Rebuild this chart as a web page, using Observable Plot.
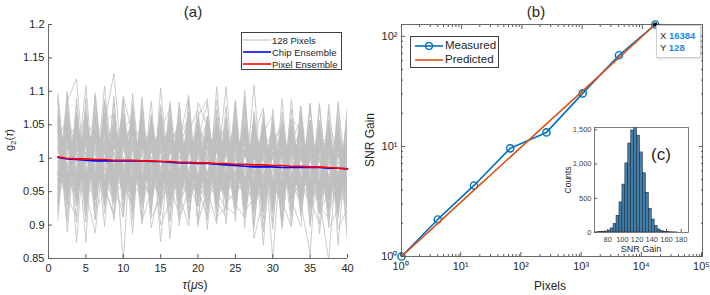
<!DOCTYPE html>
<html><head><meta charset="utf-8">
<script src="https://cdn.jsdelivr.net/npm/d3@7"></script>
<script src="https://cdn.jsdelivr.net/npm/@observablehq/plot@0.6"></script>
<style>
body{margin:0;background:#fff;}
#wrap{position:relative;width:710px;height:295px;font-family:"Liberation Sans",Arial,sans-serif;color:#262626;overflow:hidden}
#wrap svg{position:absolute;overflow:visible}
.t{position:absolute;white-space:nowrap;transform:translate(-50%,-50%);line-height:1}
.rot{transform:translate(-50%,-50%) rotate(-90deg)}
.leg{position:absolute;background:#fff;border:1px solid #404040;box-sizing:border-box}
.lrow{position:absolute;left:0;white-space:nowrap;line-height:1}
.lrow svg{position:static!important;vertical-align:middle}
</style></head><body><div id="wrap"></div>
<script>
// ---------- Panel (a) data ----------
const tauValues = [1.25,2.5,3.75,5,6.25,7.5,8.75,10,11.25,12.5,13.75,15,16.25,17.5,18.75,20,21.25,22.5,23.75,25,26.25,27.5,28.75,30,31.25,32.5,33.75,35,36.25,37.5,38.75,40];
const pixelEnsemble = [1.002,1.000,0.999,0.999,0.998,0.998,0.997,0.997,0.997,0.996,0.996,0.995,0.995,0.994,0.994,0.993,0.993,0.992,0.992,0.991,0.991,0.990,0.990,0.989,0.989,0.988,0.988,0.987,0.987,0.986,0.985,0.984];
const chipEnsemble = [1.001,0.999,0.998,0.997,0.996,0.996,0.996,0.996,0.996,0.996,0.995,0.995,0.994,0.993,0.993,0.992,0.992,0.991,0.990,0.989,0.988,0.987,0.987,0.987,0.986,0.986,0.986,0.986,0.986,0.985,0.985,0.984];
// per-pixel deviations from the pixel ensemble, in thousandths
const pixelTraceDev = [
[12,-25,40,-8,33,-41,18,5,-30,22,-14,37,-3,-45,28,9,-19,44,-27,6,31,-12,-38,20,15,-33,26,-7,41,-22,3,-16],
[-18,30,-5,47,-29,11,-40,24,8,-36,19,-21,42,-9,-27,35,4,-15,29,-44,13,38,-6,-31,22,10,-39,27,-11,34,-24,17],
[35,-10,-33,21,-2,45,-17,-28,39,-4,26,-41,15,-23,31,-8,-35,18,-9,40,-26,7,23,-43,-1,30,-20,12,-37,25,-14,38],
[-6,-42,24,10,-31,2,37,-19,-12,43,-30,7,-25,28,-37,14,33,-22,1,-17,36,-40,16,27,-29,5,41,-13,-3,-34,29,-9],
[25,16,-21,-37,44,-15,-4,32,-41,13,6,-28,23,40,-18,-33,11,26,-38,19,-7,-24,42,-2,36,-27,-8,20,-42,9,-19,31],
[-27,38,9,-14,-40,27,12,-36,20,-7,-44,31,-16,3,41,-25,-13,-31,35,-2,-39,24,8,-20,43,-11,-26,37,14,-30,-6,22],
[48,-20,3,29,-18,-33,46,-11,-22,36,-6,-38,30,17,-29,6,27,-40,12,33,-21,-8,-34,39,-16,21,-3,-44,25,13,-27,-5],
[-39,7,-28,41,15,-24,-9,44,-3,-31,38,-17,-2,35,-42,23,-26,9,-30,27,40,-36,-15,11,18,-40,33,-1,-23,39,-10,-35],
[5,33,-46,-1,26,19,-35,13,31,-26,-11,45,-39,-14,22,-30,40,3,-23,-36,17,29,-43,15,-33,37,-18,8,-12,-38,44,2],
[-33,-8,20,-30,-12,40,-26,37,-15,27,-40,2,19,-33,12,42,-37,-19,21,14,-34,-1,30,-27,7,-22,16,-38,38,-5,21,-43],
[95,-60,-85,70,-40,55,130,-30,-70,60,-45,25,-90,50,-30,-65,40,-20,115,-55,80,-110,-50,60,-40,70,-75,45,-30,20,-60,75],
[-75,85,120,-50,-110,30,-60,95,40,-95,70,-30,-60,90,-80,45,-100,60,-30,75,-40,120,-70,30,65,-50,85,-90,60,-75,100,-45],
[60,-110,40,-125,95,-70,50,-155,80,-60,-30,70,-115,40,65,-90,55,-40,-70,95,-80,30,-120,85,-60,100,-55,-130,70,-40,80,-100],
[-80,50,-30,110,-60,80,-90,40,-110,95,-50,60,-85,30,100,-60,-40,-90,60,-50,110,-70,40,-140,50,-70,90,-60,-40,85,-115,60],
[40,-95,80,-60,100,-45,-80,70,-50,80,-100,-35,60,-70,90,-95,70,-60,45,-85,100,-60,-30,70,-90,60,-50,95,-100,40,-75,95],
[-50,70,-125,60,-40,110,-30,-85,100,-45,65,-120,40,-60,75,-40,-80,115,-50,40,-70,80,-50,60,-80,45,-65,70,-45,-140,55,-110],
[85,-40,60,-80,40,-100,70,-50,65,-85,40,-70,85,-50,-95,60,-50,80,-60,-40,90,-95,60,-70,100,-60,50,-80,45,-85,65,-60],
[-60,100,-70,90,-90,60,-65,95,-75,50,-80,110,-40,80,-60,70,95,-80,-65,60,-55,70,-100,45,-55,-90,75,-45,95,-50,-30,85],
[20,-55,35,-15,60,-40,25,-10,45,-30,-50,15,55,-25,-45,30,-20,50,-35,10,-60,40,5,-45,30,-15,55,-35,-5,50,-40,15],
[-45,15,-20,55,-35,10,-60,40,-10,55,-25,-45,20,60,-15,-50,35,-5,-55,45,15,-30,50,-20,-60,25,-10,40,-50,5,35,-55],
[55,-30,10,-50,25,35,-45,5,-55,20,45,-35,-15,25,-55,50,10,-45,30,-20,45,-50,20,35,-35,55,-45,15,20,-40,-15,50],
[-15,45,-55,25,-5,-50,40,-35,50,-15,5,-55,45,-10,30,-40,-50,25,55,-40,-25,15,-45,55,10,-50,20,-25,55,-20,45,-30],
[30,5,45,-40,-55,20,55,-25,15,-45,35,25,-50,-30,50,-5,45,-55,-15,30,-40,55,-25,-10,50,-30,-50,60,-15,30,-55,25],
[-50,-20,15,35,-45,50,-15,60,-40,10,-55,40,-20,55,-35,-15,-25,40,-45,-55,50,-10,35,-50,-20,15,45,-55,30,-45,10,-25],
[10,50,-40,-25,40,-55,-5,-50,60,-40,15,-10,35,-45,15,45,-55,-20,40,25,-50,35,-60,20,40,-45,-25,30,-35,60,-20,-40],
[-35,25,-60,45,10,-15,35,-45,-25,45,-15,55,-60,20,-40,10,50,-35,20,-60,30,-45,15,40,-45,20,55,-20,-55,25,-35,40],
[45,-45,25,5,-30,45,-50,30,-35,-55,60,-20,25,-40,45,-25,15,55,-50,35,-10,-40,50,-35,25,-55,30,-10,45,-50,20,5],
[-25,35,-45,60,-20,-35,15,55,-60,35,-20,50,-45,10,-25,60,-30,-50,25,-15,55,-35,-50,45,-15,35,-40,50,-60,15,50,-45],
[15,-60,50,-35,45,-25,-40,20,55,-20,-40,35,5,-55,20,-35,60,-25,-5,50,-45,20,-40,30,-50,45,-15,-40,35,-35,55,-15],
[-55,40,-10,20,-60,55,-30,45,-20,30,-35,-50,40,35,-60,25,-40,45,-55,15,30,-25,60,-40,20,-35,50,-50,-20,45,-45,35],
[38,-28,52,-48,18,-8,44,-58,28,-48,22,48,-32,-18,58,-38,8,-32,48,-42,22,-52,28,-18,48,-8,-42,28,-48,38,-28,48],
[-28,58,-38,8,48,-52,22,-18,-48,38,-8,-28,52,-42,-12,38,-42,28,-18,52,-58,42,-32,18,-38,52,-28,-12,38,-22,-52,12],
[22,-38,-12,48,-42,28,-52,38,42,-12,48,-38,-22,48,-28,-48,32,-8,-42,38,-32,8,52,-28,-12,42,-52,22,12,-48,38,-32],
[-42,18,32,-52,38,-32,48,-8,-32,58,-42,18,-48,28,38,-22,-48,52,12,-28,42,-58,-8,48,28,-42,22,-32,-28,52,-18,42],
[52,-48,18,-22,-38,48,-18,28,-58,18,38,-48,28,-28,-42,52,22,-38,52,-8,-42,28,-28,-48,42,-28,8,48,-52,-12,38,-22],
[-12,-42,58,-38,28,-48,12,-42,38,-28,-52,28,-8,52,-38,18,-28,42,-38,-22,48,-42,32,12,-52,28,-38,42,8,-38,-22,58],
[28,-18,-48,38,-28,18,-58,48,-8,42,-28,-48,58,-18,28,-42,48,-48,28,22,-28,-38,42,-52,12,-28,48,-42,22,42,-48,-8],
[-48,42,-22,-8,52,-38,32,-28,48,-42,28,-18,-38,42,-52,28,-18,-28,48,-52,18,32,-42,38,-28,48,-32,18,-42,-28,42,-18],
[8,28,-38,52,-18,-58,38,-12,-28,22,-48,52,-8,-38,48,-32,38,-52,-22,42,-38,18,-28,52,-42,12,38,-28,52,-32,-12,28],
[-22,-52,42,-28,38,12,-42,52,18,-58,32,-12,42,-48,8,-18,-38,22,-48,58,-22,-42,38,-8,32,-48,18,-52,28,42,-38,-52],
[30,-45,60,-20,10,-65,40,25,-50,70,-35,-10,45,-60,15,55,-25,-40,65,-55,20,35,-70,45,-15,60,-45,25,-35,70,-50,10],
[-60,20,-35,65,-50,25,5,-45,70,-30,50,-65,-20,40,-55,30,60,-15,-45,30,-65,55,10,-35,45,-60,25,-20,60,-40,-10,55],
[45,-70,25,-5,55,-30,-60,70,-20,35,-65,50,-40,20,65,-50,-35,70,-20,-50,45,-15,55,-65,35,-25,-55,65,-30,45,-65,20],
[-10,55,-50,35,-70,60,-25,-40,50,-65,20,40,-55,-25,45,-20,70,-45,30,-70,40,-50,-20,60,-55,35,70,-45,15,-60,30,-35],
[65,-25,-55,45,20,-40,60,-70,25,-50,55,-30,70,-45,-35,40,-60,25,45,-35,-15,65,-45,20,-30,50,-65,35,-60,20,55,-45],
[-40,65,10,-60,35,-20,-45,50,-65,45,-10,65,-35,55,-60,-15,40,-55,15,60,-50,-25,45,-70,60,-40,30,-50,45,-65,-25,65],
[15,-35,70,-45,-25,65,-55,35,40,-20,-60,25,50,-70,35,-30,-45,55,-65,40,25,-40,70,-25,-50,65,-20,-60,35,45,-55,-20],
[-70,40,-20,50,-60,30,45,-55,-30,65,-45,-20,35,50,-40,60,20,-65,35,-45,60,-20,-55,35,55,-35,-15,45,-70,55,-35,40],
[50,-15,35,-70,40,-55,20,65,-45,-10,60,-50,25,-35,70,-55,35,20,-60,55,-40,45,-30,-50,-25,70,-50,15,50,-30,-45,65],
[-20,-60,45,20,-45,70,-35,-20,55,-40,30,-60,65,-25,-50,45,-70,40,-25,-15,60,-55,25,50,-45,-20,60,-35,-50,65,25,-60],
[70,-50,-25,55,-15,-45,65,-30,-55,45,25,-70,20,60,-25,-45,55,-35,70,-40,-30,50,-60,30,20,-55,40,-65,25,-20,65,-35],
[-35,45,-70,30,60,-35,-20,70,-10,-55,45,15,-65,35,-20,50,-40,60,-15,45,-55,-35,65,-45,65,-15,-50,35,-25,55,-60,25],
[25,60,-40,-55,35,-10,-65,45,65,-35,-45,55,-20,70,-50,15,-30,-50,40,-65,70,-30,15,-55,30,-45,55,-25,65,-50,20,-20],
[-55,-30,55,-40,70,-50,35,-25,30,50,-70,35,-45,-15,55,-65,45,-20,-55,60,-35,25,-40,60,-60,45,-35,55,-20,-55,45,-50],
[40,-55,15,65,-45,40,-50,-35,-40,70,-25,-55,60,-40,20,35,-65,35,55,-25,-45,60,-15,-40,70,-30,25,-45,50,-15,-60,35],
[-45,30,-60,10,-30,55,70,-60,45,-25,65,-45,-30,65,-55,-25,25,-60,30,50,-70,15,-50,65,-35,20,-60,70,-40,35,-25,-55],
[60,-40,50,-25,-60,15,-30,55,-25,35,-50,70,-45,-20,60,-40,50,-45,-35,65,-25,-60,35,25,-55,60,-40,-30,55,-60,40,-30],
[-25,70,-30,-50,65,-45,25,-15,-60,25,40,-40,55,-60,-30,70,-55,30,-50,20,45,-45,60,-60,40,-25,65,-55,-20,30,-70,45],
[35,-20,-65,50,-35,70,-40,20,60,-60,15,-30,-50,45,-45,-35,65,-10,45,-60,20,-35,-25,55,-20,45,-30,60,-65,-40,50,-10],
[-65,50,35,-30,45,-65,55,-50,-35,55,-30,60,-25,25,-70,40,-15,50,-40,-30,55,-65,30,-30,55,-65,15,-40,70,-25,-35,60],
[90,-70,45,-95,80,-40,-85,60,-90,75,-55,85,-35,-80,95,-60,70,-85,50,-45,90,-75,35,-95,80,-50,-90,65,-70,95,-40,75],
[-85,95,-60,40,-90,85,-50,-70,75,-40,90,-80,55,-95,45,80,-65,40,-90,85,-50,60,-80,45,-95,70,55,-85,90,-45,70,-80],
[55,-85,90,-70,30,-60,95,-85,50,-90,-45,80,-70,60,-85,35,90,-55,-80,70,-95,45,85,-60,40,-90,75,-50,-85,60,-70,90],
[-70,40,-95,75,-55,90,-30,85,-80,65,-85,-55,90,-45,70,-90,-40,95,-65,-75,60,-90,50,75,-70,85,-40,90,-60,-75,95,-50],
[80,-60,65,-85,95,-80,40,-55,85,-70,40,-95,-60,85,-50,65,-85,70,-40,95,-70,-50,80,-85,60,-75,90,-35,55,-90,-60,70],
[-95,80,-45,60,-75,-50,85,-40,-65,90,-75,45,80,-85,-40,90,55,-70,85,-60,-80,75,-95,40,-85,45,-70,95,-55,70,-90,-60]
];
const xTicksA = [0,5,10,15,20,25,30,35,40];
const yTicksA = [0.85,0.9,0.95,1,1.05,1.1,1.15,1.2];
const legendA = [{label:"128 Pixels",color:"#bdbdbd"},{label:"Chip Ensemble",color:"#0000ff"},{label:"Pixel Ensemble",color:"#ff0000"}];

// ---------- Panel (b) data ----------
const pixels = [1,4,16,64,256,1024,4096,16384];
const measuredGain = [1,2.17,4.42,9.6,13.4,30.3,67.3,128];
const predictedGain = [1,2,4,8,16,32,64,128];
const majorTicksX = [1,10,100,1000,10000,100000];
const majorTicksY = [1,10,100];
const tipPoint = {x:16384, y:128};

// ---------- Inset (c) data ----------
const binEdges = [64,68,72,76,80,84,88,92,96,100,104,108,112,116,120,124,128,132,136,140,144,148,152,156,160,164,168,172,176,180,184,188];
const binCounts = [3,5,8,15,28,60,125,245,440,700,1010,1300,1490,1540,1415,1170,865,580,345,190,95,45,22,10,5,3,2,1,0,0,0];
const insetTicksX = [80,100,120,140,160,180];
const insetTicksY = [0,500,1000,1500];

const wrap = document.getElementById("wrap");
const FONT = '"Liberation Sans", Arial, sans-serif';
const AX = "#262626";
const sup = {"0":"\u2070","1":"\u00b9","2":"\u00b2","3":"\u00b3","4":"\u2074","5":"\u2075"};
const pow10 = d => "10" + sup[String(Math.round(Math.log10(d)))];

function place(el, left, top){ el.style.left = left + "px"; el.style.top = top + "px"; wrap.appendChild(el); }
function text(str, x, y, size, extra){ const d = document.createElement("div"); d.className = "t" + (extra && extra.rot ? " rot" : ""); d.style.fontSize = size + "px"; if (extra && extra.html) d.innerHTML = str; else d.textContent = str; place(d, x, y); return d; }

// ---------- Panel (a) ----------
const traceRows = [];
pixelTraceDev.forEach((row, i) => row.forEach((v, k) => traceRows.push({id:i, tau:tauValues[k], g2:pixelEnsemble[k] + v/1000})));
const chipRows = tauValues.map((t,k)=>({tau:t, g2:chipEnsemble[k]}));
const pixRows = tauValues.map((t,k)=>({tau:t, g2:pixelEnsemble[k]}));

const plotA = Plot.plot({
  width:355, height:295, marginLeft:48, marginRight:8, marginTop:24, marginBottom:37,
  x:{domain:[0,40]}, y:{domain:[0.85,1.2]},
  style:{fontFamily:FONT, fontSize:"11px", color:AX, background:"transparent"},
  marks:[
    Plot.line(traceRows, {x:"tau", y:"g2", z:"id", stroke:"#bfbfbf", strokeWidth:0.8, clip:true}),
    Plot.line(chipRows, {x:"tau", y:"g2", stroke:"#0000ff", strokeWidth:1.6}),
    Plot.line(pixRows, {x:"tau", y:"g2", stroke:"#ff0000", strokeWidth:1.6}),
    Plot.ruleX([0], {stroke:"#5a5a5a", strokeWidth:0.9}),
    Plot.ruleY([0.85], {stroke:"#5a5a5a", strokeWidth:0.9}),
    Plot.axisX({ticks:xTicksA, tickSize:-4, tickPadding:10, label:null, tickFormat:d=>String(d), stroke:"#5a5a5a"}),
    Plot.axisY({ticks:yTicksA, tickSize:-4, tickPadding:8, label:null, tickFormat:d=>String(d), stroke:"#5a5a5a"})
  ]
});
place(plotA, 0, 0);

text("(a)", 193, 11, 15);
text("g<sub style='font-size:8px'>2</sub>(<i>τ</i>)", 11, 140, 11, {rot:true, html:true});
text("<i>τ</i>(<i>μ</i>s)", 195, 285, 12, {html:true});

// legend (a)
const legA = document.createElement("div"); legA.className = "leg";
legA.style.width = "101px"; legA.style.height = "38px";
legendA.forEach((e, i) => {
  const r = document.createElement("div"); r.className = "lrow"; r.style.top = (2 + i*12) + "px"; r.style.fontSize = "9.5px";
  r.innerHTML = `<svg width="30" height="10"><line x1="1" y1="5" x2="29" y2="5" stroke="${e.color}" stroke-width="${i?1.6:1}"/></svg><span style="vertical-align:middle">${e.label}</span>`;
  legA.appendChild(r);
});
place(legA, 241, 32);

// ---------- Panel (b) ----------
const minorX = [], minorY = [];
[1,10,100,1000,10000].forEach(p => [2,3,4,5,6,7,8,9].forEach(m => minorX.push(m*p)));
[1,10].forEach(p => [2,3,4,5,6,7,8,9].forEach(m => minorY.push(m*p)));
const measRows = pixels.map((p,i)=>({x:p, y:measuredGain[i]}));
const predRows = pixels.map((p,i)=>({x:p, y:predictedGain[i]}));

const plotB = Plot.plot({
  width:355, height:295, marginLeft:46, marginRight:8, marginTop:24, marginBottom:39,
  x:{type:"log", domain:[1,1e5]}, y:{type:"log", domain:[1,128]},
  style:{fontFamily:FONT, fontSize:"11px", color:AX, background:"transparent"},
  marks:[
    Plot.frame({stroke:"#5a5a5a", strokeWidth:0.9}),
    Plot.line(measRows, {x:"x", y:"y", stroke:"#0072BD", strokeWidth:1.6}),
    Plot.dot(measRows, {x:"x", y:"y", r:3.6, stroke:"#0072BD", strokeWidth:1.4, fill:"none"}),
    Plot.line(predRows, {x:"x", y:"y", stroke:"#D95319", strokeWidth:1.6}),
    Plot.dot([tipPoint], {x:"x", y:"y", r:2.2, symbol:"square", fill:"#000"}),
    Plot.axisX({ticks:majorTicksX, tickSize:-4, tickPadding:10, label:null, tickFormat:pow10, stroke:"#5a5a5a", dx:-1}),
    Plot.axisX({anchor:"top", ticks:majorTicksX, tickSize:-4, label:null, tickFormat:()=>"", stroke:"#5a5a5a"}),
    Plot.axisX({ticks:minorX, tickSize:-2, label:null, tickFormat:()=>"", stroke:"#5a5a5a"}),
    Plot.axisX({anchor:"top", ticks:minorX, tickSize:-2, label:null, tickFormat:()=>"", stroke:"#5a5a5a"}),
    Plot.axisY({ticks:majorTicksY, tickSize:-4, tickPadding:8, label:null, tickFormat:pow10, stroke:"#5a5a5a"}),
    Plot.axisY({anchor:"right", ticks:majorTicksY, tickSize:-4, label:null, tickFormat:()=>"", stroke:"#5a5a5a"}),
    Plot.axisY({ticks:minorY, tickSize:-2, label:null, tickFormat:()=>"", stroke:"#5a5a5a"}),
    Plot.axisY({anchor:"right", ticks:minorY, tickSize:-2, label:null, tickFormat:()=>"", stroke:"#5a5a5a"})
  ]
});
place(plotB, 355, 0);

text("(b)", 536, 11, 15);
text("SNR Gain", 370, 140, 12, {rot:true});
text("Pixels", 550, 286, 12);

// legend (b)
const legendB = [{label:"Measured", color:"#0072BD", marker:true},{label:"Predicted", color:"#D95319", marker:false}];
const legB = document.createElement("div"); legB.className = "leg";
legB.style.width = "89px"; legB.style.height = "32px";
legendB.forEach((e, i) => {
  const r = document.createElement("div"); r.className = "lrow"; r.style.top = (3 + i*14) + "px"; r.style.fontSize = "11.5px";
  r.innerHTML = `<svg width="34" height="12"><line x1="4" y1="6" x2="32" y2="6" stroke="${e.color}" stroke-width="1.6"/>${e.marker?`<circle cx="18" cy="6" r="3.4" fill="none" stroke="${e.color}" stroke-width="1.4"/>`:""}</svg><span style="vertical-align:middle">${e.label}</span>`;
  legB.appendChild(r);
});
place(legB, 410, 36);

// data tip
const tip = document.createElement("div");
tip.style.cssText = "position:absolute;width:45px;height:33px;background:#fff;border:1px solid #cfcfcf;box-sizing:border-box;font-size:9.5px;line-height:12px;padding:4px 0 0 3px;box-shadow:1px 1px 2px rgba(0,0,0,0.15)";
tip.innerHTML = `<div>X <b style="color:#1a8ae0">${tipPoint.x}</b></div><div>Y <b style="color:#1a8ae0">${tipPoint.y}</b></div>`;
place(tip, 656, 25);

// ---------- Inset (c) ----------
const binRows = binCounts.map((c,i)=>({lo:binEdges[i], hi:binEdges[i+1], c}));
const plotC = Plot.plot({
  width:140, height:160, marginLeft:34, marginRight:12, marginTop:12, marginBottom:43,
  x:{domain:[62,190]}, y:{domain:[0,1534]},
  style:{fontFamily:FONT, fontSize:"7.5px", color:"#404040", background:"transparent"},
  marks:[
    Plot.frame({fill:"#fff"}),
    Plot.rectY(binRows, {x1:"lo", x2:"hi", y1:0, y2:"c", fill:"#3f7fae", stroke:"#1a1a1a", strokeWidth:0.5, insetLeft:0, insetRight:0, clip:true}),
    Plot.frame({stroke:"#5a5a5a", strokeWidth:0.8}),
    Plot.axisX({ticks:insetTicksX, tickSize:-3, tickPadding:7, label:null, stroke:"#5a5a5a"}),
    Plot.axisY({ticks:insetTicksY, tickSize:-3, tickPadding:6, label:null, stroke:"#5a5a5a"})
  ]
});
place(plotC, 560, 115);
text("Counts", 568, 180, 8.5, {rot:true});
text("SNR Gain", 641, 249, 9);
text("(c)", 661, 154, 17);
</script></body></html>
